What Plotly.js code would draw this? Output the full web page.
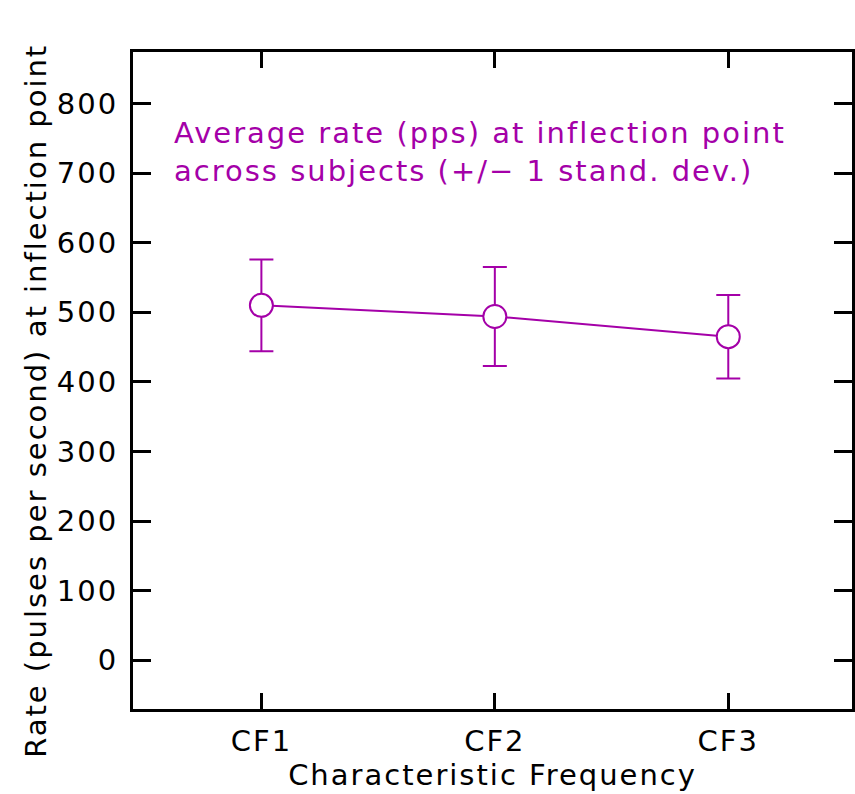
<!DOCTYPE html>
<html><head><meta charset="utf-8">
<script src="https://cdn.plot.ly/plotly-3.0.1.min.js"></script>
<style>html,body{margin:0;padding:0;background:#fff}
.main-svg text{letter-spacing:2px}</style>
</head><body>
<div id="chart" style="width:855px;height:794px"></div>
<script>
const categories = [1, 2, 3];
const tickLabels = ["CF1", "CF2", "CF3"];
const rateMean = [510, 494, 465];
const rateSD = [66, 71, 60];
const yTicks = [0, 100, 200, 300, 400, 500, 600, 700, 800];

const col = '#a400a8';
const fnt = 'DejaVu Sans, sans-serif';
const fs = 29;

const trace = {
  x: categories, y: rateMean, type: 'scatter', mode: 'lines+markers',
  line: {color: col, width: 2},
  marker: {symbol: 'circle', size: 23, color: '#fff', line: {color: col, width: 2}},
  error_y: {type: 'data', array: rateSD, visible: true, color: col, thickness: 2, width: 12},
  showlegend: false, hoverinfo: 'skip'
};

const layout = {
  width: 855, height: 794,
  margin: {l: 133, r: 3, t: 52, b: 85},
  paper_bgcolor: '#fff', plot_bgcolor: '#fff',
  font: {family: fnt, color: '#000', size: fs},
  xaxis: {
    range: [0.45, 3.53], tickvals: categories, ticktext: tickLabels,
    ticks: 'inside', ticklen: 16, tickwidth: 3, tickcolor: '#000',
    showline: true, linewidth: 3, linecolor: '#000', mirror: 'ticks',
    showgrid: false, zeroline: false,
    tickfont: {family: fnt, size: fs}, ticklabelstandoff: 4,
    title: {text: 'Characteristic Frequency', font: {family: fnt, size: fs}, standoff: 6}
  },
  yaxis: {
    range: [-70, 874], tickvals: yTicks,
    ticks: 'inside', ticklen: 18, tickwidth: 3, tickcolor: '#000',
    showline: true, linewidth: 3, linecolor: '#000', mirror: 'ticks',
    showgrid: false, zeroline: false,
    tickfont: {family: fnt, size: fs}, ticklabelstandoff: 6
  },
  annotations: [{
    xref: 'paper', yref: 'paper', x: 0.054, y: 0.905, xanchor: 'left', yanchor: 'top',
    text: 'Average rate (pps) at inflection point<br>across subjects (+/\u2212 1 stand. dev.)',
    showarrow: false, align: 'left',
    font: {family: fnt, size: fs, color: col}
  }, {
    xref: 'paper', yref: 'paper', x: 0, xshift: -97, y: 0.469, xanchor: 'center', yanchor: 'middle',
    text: 'Rate (pulses per second) at inflection point', textangle: -90,
    showarrow: false, font: {family: fnt, size: fs, color: '#000'}
  }]
};

Plotly.newPlot('chart', [trace], layout, {displayModeBar: false, staticPlot: true});
</script>
</body></html>
